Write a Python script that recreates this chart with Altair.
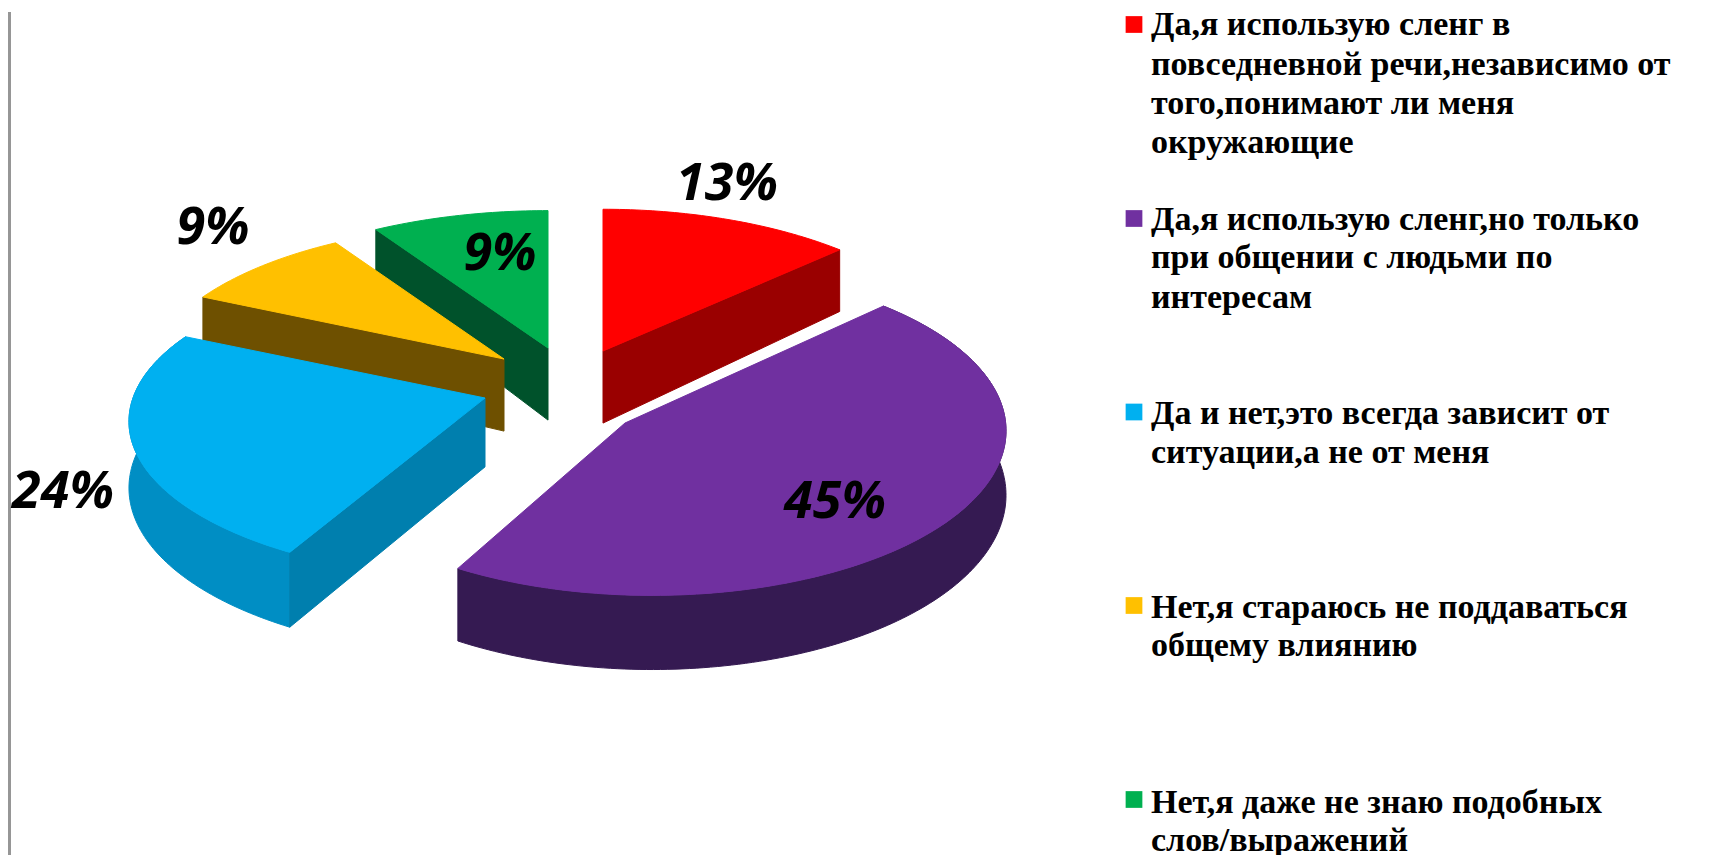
import math
import altair as alt
import pandas as pd

W, H = 1716, 855

# ---- data
categories = ["red", "purple", "blue", "yellow", "green"]
values = [13, 45, 24, 9, 9]
labels = ["13%", "45%", "24%", "9%", "9%"]
legend_lines = [
    ["Да,я использую сленг в", "повседневной речи,независимо от", "того,понимают ли меня", "окружающие"],
    ["Да,я использую сленг,но только", "при общении с людьми по", "интересам"],
    ["Да и нет,это всегда зависит от", "ситуации,а не от меня"],
    ["Нет,я стараюсь не поддаваться", "общему влиянию"],
    ["Нет,я даже не знаю подобных", "слов/выражений"],
]

# ---- style and layout
top_colors = ["#FF0000", "#7030A0", "#00B0F0", "#FFC000", "#00B050"]
cut_colors = ["#9A0000", None, "#007FAE", "#6E5000", "#00522B"]
arc_colors = [None, "#351A52", "#008EC4", None, None]
apex = [(603, 349), (652, 404), (485, 396), (504, 357), (548, 346)]       # rim centres
vertex = [(603, 349), (625, 421), (485, 396), (504, 357), (548, 346)]     # inner corner of each top face
radii = [(358, 163), (350, 161), (352, 153), (354, 155), (362, 158)]
depth = [68, 63, 65, 68, 68]
persp = 0.15
cut_at_start = [False, False, True, True, True]  # which straight side faces the viewer
label_pos = [(727, 198), (835, 516), (63, 506), (213, 242), (500, 268)]
legend_x = 1151
legend_baselines = [[33, 73, 112, 151], [228, 266, 306], [422, 461], [616, 654], [811, 849]]
marker_y = [22.5, 216.5, 410, 603.5, 797.5]
marker_x = 1134
edge_bar_x = 9.5

x_enc = lambda f="x": alt.X(f"{f}:Q", axis=None, scale=alt.Scale(domain=[8, W - 8], nice=False, zero=False))
y_enc = lambda f="y": alt.Y(f"{f}:Q", axis=None, scale=alt.Scale(domain=[H + 2, 10], nice=False, zero=False))


def project(i, theta):
    """Tilted-disc position of a rim point, with the perspective scale there."""
    ax, ay = apex[i]
    rx, ry = radii[i]
    t = math.radians(theta)
    s = 1 / (1 + persp * math.cos(t))
    return ax + rx * math.sin(t) * s, ay - ry * math.cos(t) * s, s


def rim(i, a, b):
    n = max(2, int(abs(b - a)) + 1)
    return [project(i, a + (b - a) * k / (n - 1)) for k in range(n)]


def polygon(points, color):
    pts = list(points) + [points[0]]
    df = pd.DataFrame([{"x": p[0], "y": p[1], "seq": k} for k, p in enumerate(pts)])
    return (
        alt.Chart(df)
        .mark_line(fill=color, stroke=color, strokeWidth=1, interpolate="linear")
        .encode(x=x_enc(), y=y_enc(), order="seq:Q")
    )


def wall(i, rim_pts, color):
    d = depth[i]
    lower = [(p[0], p[1] + d * p[2]) for p in reversed(rim_pts)]
    return polygon([p[:2] for p in rim_pts] + lower, color)


# cumulative slice angles, clockwise from twelve o'clock
starts, acc = [], 0
for v in values:
    starts.append(acc * 3.6)
    acc += v

layers = []
for i in [4, 3, 2, 0, 1]:  # painter's order
    a, b = starts[i], starts[i] + values[i] * 3.6
    vx, vy = vertex[i]
    if arc_colors[i]:
        layers.append(wall(i, rim(i, a, b), arc_colors[i]))
    if cut_colors[i]:
        edge = a if cut_at_start[i] else b
        c = project(i, edge)
        layers.append(wall(i, [(vx, vy, 1.06), c], cut_colors[i]))
    top = [(vx, vy)] + [p[:2] for p in rim(i, a, b)]
    layers.append(polygon(top, top_colors[i]))

pct_df = pd.DataFrame({"x": [p[0] for p in label_pos], "y": [p[1] for p in label_pos], "t": labels})
pct = alt.Chart(pct_df).mark_text(
    font="Open Sans", fontSize=52, fontWeight="bold", fontStyle="italic",
    baseline="alphabetic", align="center", color="black",
).encode(x=x_enc(), y=y_enc(), text="t:N")

rows = []
for lines, bases in zip(legend_lines, legend_baselines):
    for t, b in zip(lines, bases):
        rows.append({"x": legend_x, "y": b, "t": t})
legend_text = alt.Chart(pd.DataFrame(rows)).mark_text(
    font="Liberation Serif", fontSize=34, fontWeight="bold",
    baseline="alphabetic", align="left", color="black",
).encode(x=x_enc(), y=y_enc(), text="t:N")

marker_df = pd.DataFrame({"x": [marker_x] * 5, "y": marker_y, "c": top_colors})
markers = alt.Chart(marker_df).mark_square(size=280, opacity=1, filled=True).encode(
    x=x_enc(), y=y_enc(), color=alt.Color("c:N", scale=None)
)

edge_bar = alt.Chart(pd.DataFrame({"x": [edge_bar_x]})).mark_rule(color="#969696", strokeWidth=3).encode(
    x=x_enc(), y=alt.value(0), y2=alt.value(H - 8)
)

chart = (
    alt.layer(edge_bar, *layers, pct, markers, legend_text)
    .properties(width=W - 16, height=H - 8, padding=0, background="white")
    .configure_view(stroke=None)
)
chart.save("out.html", embed_options={"renderer": "svg", "actions": False})
